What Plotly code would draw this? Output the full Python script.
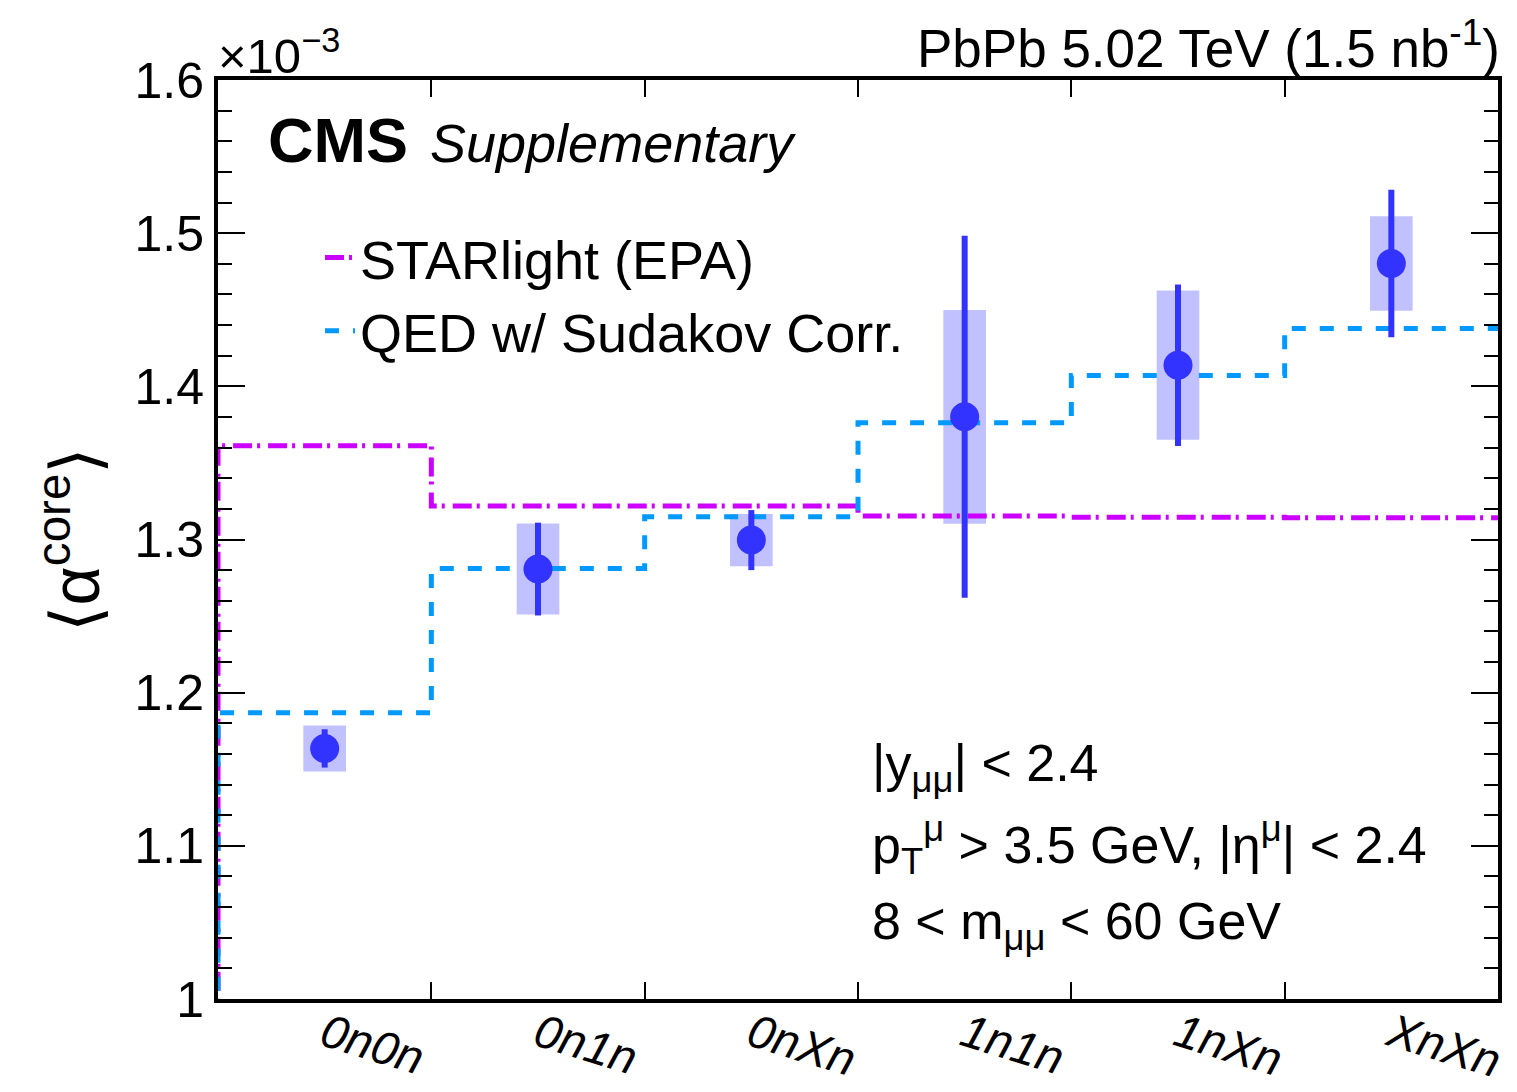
import plotly.graph_objects as go

# ---- data (values in units of 1e-3) ----
categories = ["0n0n", "0n1n", "0nXn", "1n1n", "1nXn", "XnXn"]
data_mean = [1.1636, 1.2807, 1.2996, 1.3801, 1.4138, 1.4802]
data_stat = [0.0125, 0.0303, 0.0196, 0.1182, 0.0527, 0.0481]
data_syst = [0.0150, 0.0297, 0.0170, 0.0698, 0.0487, 0.0308]
starlight = [1.3612, 1.3218, 1.3218, 1.3153, 1.3146, 1.3142]
qed_sudakov = [1.1869, 1.2811, 1.3148, 1.3762, 1.4071, 1.4378]
y_tick_vals = [1.0, 1.1, 1.2, 1.3, 1.4, 1.5, 1.6]
y_tick_text = ["1", "1.1", "1.2", "1.3", "1.4", "1.5", "1.6"]

nbins = len(categories)
centers = [i + 0.5 for i in range(nbins)]
edges = list(range(nbins + 1))

W, H = 1517, 1092
L, R, T, B = 218, 1498, 80, 999


def fx(px):
    return (px - L) / (R - L)


def fy(py):
    return (B - py) / (B - T)


def step(vals):
    # histogram outline: rise from baseline at the left edge, then steps
    xs = [edges[0]] + edges[:-1] + [edges[-1]]
    ys = [0.0] + list(vals) + [vals[-1]]
    return xs, ys


fig = go.Figure()

sx, sy = step(starlight)
fig.add_trace(go.Scatter(
    x=sx, y=sy, mode="lines", line_shape="hv", name="STARlight (EPA)",
    line=dict(color="#CC00FF", width=5, dash="19px,5px,3px,8px"),
))
qx, qy = step(qed_sudakov)
fig.add_trace(go.Scatter(
    x=qx, y=qy, mode="lines", line_shape="hv", name="QED w/ Sudakov Corr.",
    line=dict(color="#0099FF", width=5, dash="14px,14px"),
))

# systematic boxes
fig.add_trace(go.Bar(
    x=centers,
    y=[2 * s for s in data_syst],
    base=[m - s for m, s in zip(data_mean, data_syst)],
    width=0.2,
    marker=dict(color="rgba(51,51,255,0.30)", line=dict(width=0)),
    showlegend=False, hoverinfo="skip",
))

# data points with stat errors
fig.add_trace(go.Scatter(
    x=centers, y=data_mean, mode="markers",
    marker=dict(color="#3333FF", size=29, line=dict(width=0)),
    error_y=dict(type="data", array=data_stat, visible=True,
                 color="#3333FF", thickness=6, width=0),
    showlegend=False,
))

axis_font = dict(family="Liberation Sans", size=50, color="black")

fig.update_layout(
    template="none",
    width=W, height=H,
    margin=dict(l=L, r=W - R, t=T, b=H - B, autoexpand=False),
    paper_bgcolor="white", plot_bgcolor="white",
    font=dict(family="Liberation Sans", color="black"),
    barmode="overlay",
    xaxis=dict(
        automargin=False,
        range=[edges[0], edges[-1]],
        tickvals=centers, ticktext=categories,
        ticks="", tickangle=17, ticklabelstandoff=-14,
        tickfont=dict(family="Liberation Sans", size=47, color="black", style="italic"),
        minor=dict(tickvals=edges[1:-1], ticks="inside", ticklen=17,
                   tickwidth=2, tickcolor="black", showgrid=False),
        showline=True, linewidth=4, linecolor="black", mirror="allticks",
        showgrid=False, zeroline=False,
    ),
    yaxis=dict(
        automargin=False,
        range=[1.0, 1.6],
        tickvals=y_tick_vals, ticktext=y_tick_text,
        ticks="inside", ticklen=27, tickwidth=2, tickcolor="black",
        minor=dict(dtick=0.02, ticks="inside", ticklen=14, tickwidth=2,
                   tickcolor="black", showgrid=False),
        tickfont=axis_font,
        showline=True, linewidth=4, linecolor="black", mirror="allticks",
        showgrid=False, zeroline=False,
        title=dict(text="⟨α<sup>core</sup>⟩",
                   font=dict(family="Liberation Sans", size=68, color="black"),
                   standoff=14),
    ),
    legend=dict(
        x=fx(320), y=fy(216), xanchor="left", yanchor="top",
        font=dict(family="Liberation Sans", size=54, color="black"),
        bgcolor="rgba(0,0,0,0)", borderwidth=0, traceorder="normal",
    ),
    showlegend=True,
)

ann = []
ann.append(dict(text="<b>CMS</b>", x=fx(266), y=fy(140), xref="paper", yref="paper",
                xanchor="left", yanchor="middle", showarrow=False,
                font=dict(family="Liberation Sans", size=63, color="black")))
ann.append(dict(text="<i>Supplementary</i>", x=fx(428), y=fy(143), xref="paper", yref="paper",
                xanchor="left", yanchor="middle", showarrow=False,
                font=dict(family="Liberation Sans", size=54, color="black")))
ann.append(dict(text="PbPb 5.02 TeV (1.5 nb<sup>-1</sup>)", x=fx(1502), y=fy(44), xref="paper", yref="paper",
                xanchor="right", yanchor="middle", showarrow=False,
                font=dict(family="Liberation Sans", size=53, color="black")))
ann.append(dict(text="×10<sup>−3</sup>", x=fx(216), y=fy(52), xref="paper", yref="paper",
                xanchor="left", yanchor="middle", showarrow=False,
                font=dict(family="Liberation Sans", size=49, color="black")))
cut_lines = [
    ("|y<sub>μμ</sub>| < 2.4", 767),
    ("p<sub>T</sub><sup>μ</sup> > 3.5 GeV, |η<sup>μ</sup>| < 2.4", 845),
    ("8 < m<sub>μμ</sub> < 60 GeV", 925),
]
for txt, py in cut_lines:
    ann.append(dict(text=txt, x=fx(870), y=fy(py), xref="paper", yref="paper",
                    xanchor="left", yanchor="middle", showarrow=False,
                    font=dict(family="Liberation Sans", size=52, color="black")))
fig.update_layout(annotations=ann)

fig.write_html("out.html", include_plotlyjs=True,
               config={"displayModeBar": False},
               post_script="document.body.style.margin='0';document.body.style.overflow='hidden';")
